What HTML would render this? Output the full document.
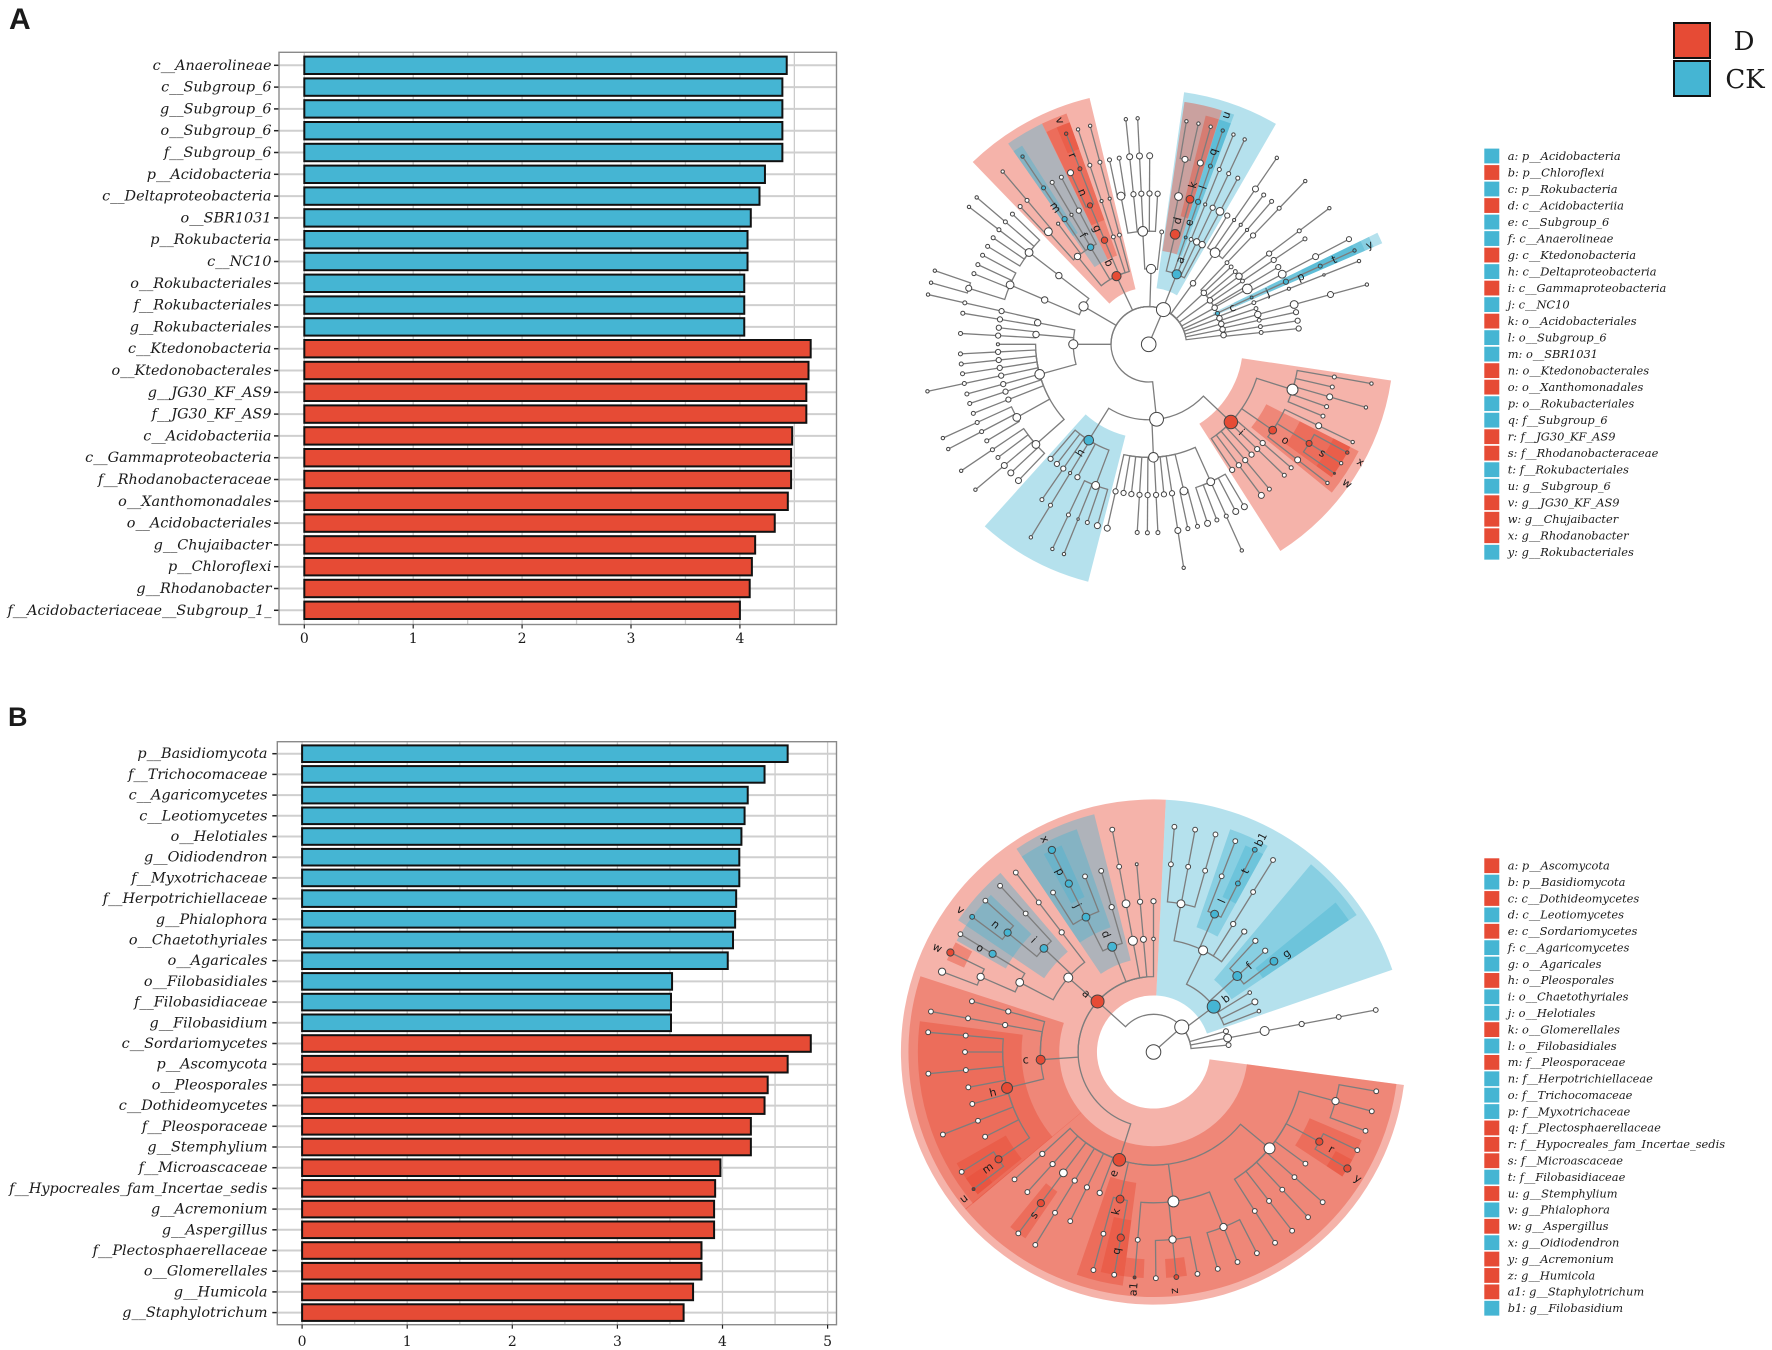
<!DOCTYPE html>
<html lang="en">
<head>
<meta charset="utf-8">
<title>LEfSe bar charts and cladograms</title>
<style>
html,body{margin:0;padding:0;background:#fff;}
svg{display:block;}
text{fill:#1a1a1a;}
.serif{font-family:"DejaVu Serif","Liberation Serif",serif;}
.ital{font-family:"DejaVu Serif","Liberation Serif",serif;font-style:italic;}
.sans{font-family:"DejaVu Sans","Liberation Sans",sans-serif;}
.bold{font-family:"Liberation Sans",sans-serif;font-weight:bold;}
</style>
</head>
<body>
<svg id="fig" xmlns="http://www.w3.org/2000/svg" width="1772" height="1350" viewBox="0 0 1772 1350">
  <rect x="0" y="0" width="1772" height="1350" fill="#ffffff"/>
  <text x="9" y="29" class="bold" font-size="30" fill="#000">A</text>
  <text x="8" y="726" class="bold" font-size="27" fill="#000">B</text>
  <g>
    <rect x="1674" y="23" width="36" height="35" fill="#E64B35" stroke="#111" stroke-width="2"/>
    <rect x="1674" y="61" width="36" height="35" fill="#45B5D3" stroke="#111" stroke-width="2"/>
    <text x="1744" y="50" class="serif" font-size="26" text-anchor="middle">D</text>
    <text x="1745" y="88" class="serif" font-size="26" text-anchor="middle">CK</text>
  </g>
  <g id="barsA"></g>
  <g id="barsB"></g>
  <g id="cladeA"></g>
  <g id="cladeB"></g>
  <g id="legendA"></g>
  <g id="legendB"></g>
</svg>
<script>
// ---------- Panel A bar data ----------
const barLabelsA = ["c__Anaerolineae","c__Subgroup_6","g__Subgroup_6","o__Subgroup_6","f__Subgroup_6","p__Acidobacteria","c__Deltaproteobacteria","o__SBR1031","p__Rokubacteria","c__NC10","o__Rokubacteriales","f__Rokubacteriales","g__Rokubacteriales","c__Ktedonobacteria","o__Ktedonobacterales","g__JG30_KF_AS9","f__JG30_KF_AS9","c__Acidobacteriia","c__Gammaproteobacteria","f__Rhodanobacteraceae","o__Xanthomonadales","o__Acidobacteriales","g__Chujaibacter","p__Chloroflexi","g__Rhodanobacter","f__Acidobacteriaceae__Subgroup_1_"];
const barValuesA = [4.43,4.39,4.39,4.39,4.39,4.23,4.18,4.10,4.07,4.07,4.04,4.04,4.04,4.65,4.63,4.61,4.61,4.48,4.47,4.47,4.44,4.32,4.14,4.11,4.09,4.00];
const barGroupsA = ["b","b","b","b","b","b","b","b","b","b","b","b","b","r","r","r","r","r","r","r","r","r","r","r","r","r"];
const xTicksA = [0,1,2,3,4];
// ---------- Panel B bar data ----------
const barLabelsB = ["p__Basidiomycota","f__Trichocomaceae","c__Agaricomycetes","c__Leotiomycetes","o__Helotiales","g__Oidiodendron","f__Myxotrichaceae","f__Herpotrichiellaceae","g__Phialophora","o__Chaetothyriales","o__Agaricales","o__Filobasidiales","f__Filobasidiaceae","g__Filobasidium","c__Sordariomycetes","p__Ascomycota","o__Pleosporales","c__Dothideomycetes","f__Pleosporaceae","g__Stemphylium","f__Microascaceae","f__Hypocreales_fam_Incertae_sedis","g__Acremonium","g__Aspergillus","f__Plectosphaerellaceae","o__Glomerellales","g__Humicola","g__Staphylotrichum"];
const barValuesB = [4.62,4.40,4.24,4.21,4.18,4.16,4.16,4.13,4.12,4.10,4.05,3.52,3.51,3.51,4.84,4.62,4.43,4.40,4.27,4.27,3.98,3.93,3.92,3.92,3.80,3.80,3.72,3.63];
const barGroupsB = ["b","b","b","b","b","b","b","b","b","b","b","b","b","b","r","r","r","r","r","r","r","r","r","r","r","r","r","r"];
const xTicksB = [0,1,2,3,4,5];
// ---------- Taxa legends ----------
const taxaA = ["a: p__Acidobacteria","b: p__Chloroflexi","c: p__Rokubacteria","d: c__Acidobacteriia","e: c__Subgroup_6","f: c__Anaerolineae","g: c__Ktedonobacteria","h: c__Deltaproteobacteria","i: c__Gammaproteobacteria","j: c__NC10","k: o__Acidobacteriales","l: o__Subgroup_6","m: o__SBR1031","n: o__Ktedonobacterales","o: o__Xanthomonadales","p: o__Rokubacteriales","q: f__Subgroup_6","r: f__JG30_KF_AS9","s: f__Rhodanobacteraceae","t: f__Rokubacteriales","u: g__Subgroup_6","v: g__JG30_KF_AS9","w: g__Chujaibacter","x: g__Rhodanobacter","y: g__Rokubacteriales"];
const taxaGroupsA = "brbrbbrbrbrbbrrbbrrbbrrrb";
const taxaB = ["a: p__Ascomycota","b: p__Basidiomycota","c: c__Dothideomycetes","d: c__Leotiomycetes","e: c__Sordariomycetes","f: c__Agaricomycetes","g: o__Agaricales","h: o__Pleosporales","i: o__Chaetothyriales","j: o__Helotiales","k: o__Glomerellales","l: o__Filobasidiales","m: f__Pleosporaceae","n: f__Herpotrichiellaceae","o: f__Trichocomaceae","p: f__Myxotrichaceae","q: f__Plectosphaerellaceae","r: f__Hypocreales_fam_Incertae_sedis","s: f__Microascaceae","t: f__Filobasidiaceae","u: g__Stemphylium","v: g__Phialophora","w: g__Aspergillus","x: g__Oidiodendron","y: g__Acremonium","z: g__Humicola","a1: g__Staphylotrichum","b1: g__Filobasidium"];
const taxaGroupsB = "rbrbrbbrbbrbrbbbrrrbrbrbrrrb".split("");
// ---------- Cladogram A: node = [angle deg, chain of node codes, ...children] ----------
// codes: w/W/X/v/u white (normal, big, bigger, small, tiny); r/R/Y red; b/B/n blue; k dark tiny
const cladeTreeA = [0,"w",[23,"w",
  [-59.8,"w",
    [-52.6,"w",[-52.5,"W",[-46.3,"w"],[-49.5,"ww"],[-52.6,"ww"],[-55.6,"w"],[-58.7,"w"]]],
    [-66.9,"w",[-66.8,"W",[-61.8,"w"],[-65,"w"],[-68,"w"],[-72.7,"W",[-71,"w"],[-74.2,"w"]]]]],
  [-90,"w",
    [-79,"w",[-77.3,"www"],[-80.5,"ww"]],
    [-85,"w",[-83.7,"w"],[-86.7,"ww"]],
    [-105.4,"W",[-90,"v"],[-92.9,"ww"],[-96,"ww"],[-99,"ww"],[-102,"www"],[-105.3,"ww"],[-108.3,"ww"],[-111.5,"ww"],
      [-119,"W",[-114.5,"ww"],[-117.6,"ww"],[-120.8,"w"]],
      [-131.6,"W",[-124,"ww"],[-126.9,"w"],[-130,"Ww"],[-133,"W"],[-136.3,"W"]]]],
  [-25.3,"r",
    [-39,"w",[-41.7,"W",[-40.2,"ww"],[-43,"w"]]],
    [-30.9,"b",[-27.6,"ww"],[-30.8,"vw"],[-33.9,"bbb"],[-36.9,"v"]],
    [-23,"r",[-22.9,"r",[-24.5,"W"],[-21.4,"rr"]]],
    [-18.2,"vvww"],[-15,"vvww"]],
  [1.8,"w",
    [-3,"W",[-10.6,"W",[-12,"w"],[-9,"w"]],[-5.8,"wWw"],[-2.8,"wWw"],[0.3,"wW"],[3.4,"w"]],
    [6.6,"v"]],
  [21.8,"b",
    [13.5,"R",[11.4,"W",[11.1,"W",[9.6,"w"],[12.7,"w"]]],[15.9,"RWw"]],
    [19.1,"nbbb"],[22,"vvww"],[25.1,"wwww"],[28.2,"wWw"]],
  [36,"v",[35.9,"W",[31.4,"w"],[34.5,"vWw"],[37.6,"vw"],[40.7,"vw"]]],
  [47,"v",[43.8,"vwww"],[46.8,"v"],[50,"v"],[53,"wwww"],[56,"vww"]],
  [54.4,"v",[59.2,"vw"],[60.7,"W",[62.3,"WWW"]]],
  [65.8,"n",[65.5,"nbbb"]],
  [61,"v",[68.4,"vvvw"]],
  [69.8,"v",[71.6,"v",[74.7,"WWw"]],[74.7,"w"]],
  [74.3,"v",[77.7,"vw"]],
  [78.6,"v",[81,"vw"]],
  [83,"v",[84,"vw"]],
  [-186,"W",
    [-148,"B",[-139.4,"w"],[-142.5,"w"],[-145.5,"ww"],[-148.6,"vww"],[-151.8,"w"],
      [-159.4,"W",[-154.8,"ww"],[-158,"vw"],[-161,"w"],[-164.2,"W"]]],
    [177.6,"W",[-167.3,"wW"],[-170.4,"w"],[-173.4,"w"],[-176.5,"ww"],[-179.6,"ww"],[177.2,"ww"],[174.2,"w"],[171.1,"wWw"],
      [166.5,"W",[168,"w"],[165,"w"]],
      [155.7,"W",[161.8,"W"],[158.8,"w"],[155.7,"ww"],[152.5,"W"],[149.5,"W"]]],
    [133.4,"Y",
      [107.5,"X",[100,"ww"],[103.1,"w"],[106.2,"Ww"],[109.3,"w"],[112.4,"w"]],
      [124.7,"R",[115.6,"Ww"],[121.7,"R",[118.6,"r"],[121.7,"w"],[124.8,"k"]],[127.8,"Ww"]],
      [130.9,"ww"],[134,"ww"],[137,"w"],[140.2,"ww"],[143.3,"wW"],[146.4,"w"]]]
]];
// highlight wedges: inner level, outer level, start angle, end angle, group
const wedgesA = [
  [1.5,6.72,-44,-13.5,"r"],[2.5,6.5,-35,-25.8,"b"],[2.5,6.5,-25.8,-19.6,"r"],[3.5,6.25,-35,-32.5,"b"],[3.5,6.25,-25.7,-19.6,"r"],[5.5,6.25,-23,-19.6,"r"],
  [1.5,6.75,8,30,"b"],[2.5,6.5,8.4,17.4,"r"],[3.5,6.25,14,17.3,"r"],[2.5,6.5,17.4,20.4,"b"],[3.5,6.25,17.4,20.4,"b"],[5,6.25,17.4,20.4,"b"],
  [1.9,6.75,64,66.6,"b"],[2.5,6.5,64,66.6,"b"],[3.5,6.25,64,66.6,"b"],[4.5,6,64,66.6,"b"],
  [2.5,6.5,98.5,147.5,"r"],[3.5,6.25,117,129,"r"],[4.5,6,117,126,"r"],[5.5,6,117,122,"r"],[5.5,6,122,126,"r"],
  [2.5,6.5,-165.7,-138,"b"]
];
// clade letters: letter, radius px, angle
const cladeLabelsA = [["b",90.7,-25.9],["g",126.7,-23.9],["f",127.3,-30.9],["m",165.7,-34.2],["n",165.7,-23.5],["r",203.7,-21.9],["v",240.7,-21.6],["a",90,20.4],["e",128.3,18.3],["d",127,13],["l",166,19],["k",165.3,15.4],["q",203,18.4],["u",242,18.6],["c",91.3,66.3],["j",129.7,66.5],["p",166.3,66],["t",204,65.4],["y",242,65.7],["i",128,133.4],["o",167,125],["s",205,122],["x",242.3,119],["w",242.3,125],["h",128.3,-147.6]];
// ---------- Cladogram B ----------
const cladeTreeB = [0,"w",[48.5,"w",
  [53,"b",
    [26,"W",[10.5,"W",[5.3,"ww"],[10.6,"ww"],[15.9,"ww"]],[23.9,"B",[21.2,"ww"],[26.6,"bb"]],[31.9,"www"],[37,"w"]],
    [47.8,"B",[42.5,"w"],[47.8,"w"],[53,"B"]],
    [58.3,"v"],[63.7,"w"],[68.8,"v"]],
  [74,"u"],[79.3,"vWwww"],[84.7,"u"],
  [-47.9,"r",
    [-48.9,"W",
      [-37.5,"www"],
      [-46.6,"B",[-42.7,"ww"],[-50.7,"B",[-53.3,"b"],[-48,"w"]]],
      [-62.5,"W",[-58.6,"Bw"],[-66.5,"W",[-63.9,"R"],[-69.2,"W"]]]],
    [-21.4,"B",[-26.6,"B",[-26.7,"BB"],[-32.2,"w"],[-21.3,"w"]],[-16.1,"ww"]],
    [-10.5,"WWww"],[-5.1,"wwv"],[0,"vw"],
    [-93.9,"R",[-74.4,"ww"],[-79.7,"www"],
      [-103.8,"Y",[-85,"ww"],[-90,"w"],[-95.5,"ww"],[-100.8,"w"],[-106,"w"],[-111.4,"ww"],[-116.7,"w"],
        [-124.7,"R",[-122,"w"],[-127.3,"k"]]]],
    [-162.4,"Y",
      [-132.5,"ww"],[-138,"ww"],[-143.3,"WRw"],[-148.5,"www"],[-153.8,"ww"],[-159.1,"w"],
      [-167.2,"R",[-164.6,"ww"],[-170,"Rw"]],
      [172.4,"X",[-175.2,"wk"],[174.2,"W",[179.4,"w"],[174.2,"r"],[168.8,"w"]],[158.2,"W",[163.5,"w"],[158.2,"w"],[152.8,"w"]]],
      [129.7,"X",[147.5,"ww"],[142.2,"ww"],[136.9,"ww"],[131.6,"ww"],[126.3,"w"],[118.4,"R",[115.7,"w"],[121,"R"]],[105.1,"W",[100,"w"],[105.2,"w"],[110.4,"w"]]]]]
]];
const wedgesB = [
  [1.5,6.7,97.5,362.8,"r"],[1.5,6.7,2.8,71,"b"],
  [2.5,6.5,97.5,230.2,"r"],[2.5,6.5,-130,-72,"r"],[3.5,6.25,-130,-82.5,"r"],[4.5,6,-129,-119.5,"r"],[5.5,6,-129,-124,"r"],
  [3.5,6.25,-172.5,-161,"r"],[4.5,6,-172.5,-166.5,"r"],[5.5,6,-177.5,-172.5,"r"],[5.5,6,171.5,176.8,"r"],[4.5,6,-145.5,-140.7,"r"],
  [4.5,6,113,123.4,"r"],[5.5,6,118.5,123.4,"r"],
  [2.5,6.5,-34,-14,"b"],[3.5,6.25,-34,-19,"b"],[4.5,6,-29,-24,"b"],
  [3.5,6.25,-56,-40.5,"b"],[4.5,6,-56,-46,"b"],[4.5,6,-60.5,-56,"b"],[5.5,6,-66,-61,"r"],
  [3.5,6.25,19,29,"b"],[4.5,6,24,29,"b"],
  [2.5,6.5,40,56,"b"],[3.5,6.25,50.6,56,"b"]
];
const cladeLabelsB = [["x",239,-27],["p",203,-27.3],["j",164.8,-27.4],["d",127,-21.9],["v",239.7,-53.6],["n",203,-51],["i",164,-46.8],["w",240,-64.2],["o",202.4,-59],["a",89,-48.9],["c",128,-93.4],["b1",238,26.8],["t",202.8,26.8],["l",165.7,24.3],["b",90,53.4],["f",128.7,47.9],["g",165.5,53.4],["h",165.6,-104.1],["m",202.5,-125],["u",239.8,-127.6],["s",202.3,-143.7],["e",127.7,-161.8],["k",164,-166.7],["q",202.5,-169.4],["a1",238,-175.1],["z",239.7,174.7],["r",202.7,118.6],["y",240.4,121.7]];

const NS = "http://www.w3.org/2000/svg";
const COLORS = {r:"#E64B35", b:"#45B5D3"};
const NODE_FILL = {w:"#ffffff",W:"#ffffff",X:"#ffffff",v:"#ffffff",u:"#ffffff",r:"#E64B35",R:"#E64B35",Y:"#E64B35",b:"#45B5D3",B:"#45B5D3",n:"#45B5D3",k:"#a03020"};
const NODE_SCALE = {w:1,W:1.5,X:2.1,v:0.6,u:0.38,r:1,R:1.5,Y:2.1,b:1,B:1.5,n:0.45,k:0.6};
function mk(parent, tag, attrs, text){
  const el = document.createElementNS(NS, tag);
  for (const k in attrs) el.setAttribute(k, attrs[k]);
  if (text !== undefined) el.textContent = text;
  parent.appendChild(el);
  return el;
}

function drawBars(rootId, labels, values, groups, ticks, cfg){
  const root = document.getElementById(rootId);
  const xScale = v => cfg.x0 + v * cfg.unit;
  const yScale = i => cfg.first + i * cfg.step;
  for (let v = 0; xScale(v) < cfg.right; v += 0.5){
    const el = mk(root, "line", {x1:xScale(v), x2:xScale(v), y1:cfg.top, y2:cfg.bottom, stroke:"#cbcbcb", "stroke-width":1.3});
    
    
  }
  labels.forEach((label, i) => {
    const y = yScale(i);
    const grid = mk(root, "line", {x1:cfg.left, x2:cfg.right, y1:y, y2:y, stroke:"#cfcfcf", "stroke-width":2});
    
    
    const tick = mk(root, "line", {x1:cfg.left-5, x2:cfg.left, y1:y, y2:y, stroke:"#222", "stroke-width":1.5});
    
    
    const txt = mk(root, "text", {x:cfg.labelX, y:y+4.5, "text-anchor":"end", class:"ital", "font-size":cfg.fs}, label);
    
    
  });
  values.forEach((v, i) => {
    const bar = mk(root, "rect", {x:xScale(0), y:yScale(i)-cfg.h/2, width:xScale(v)-xScale(0), height:cfg.h, fill:COLORS[groups[i]], stroke:"#111", "stroke-width":2});
    
    
  });
  const box = mk(root, "rect", {x:cfg.left, y:cfg.top, width:cfg.right-cfg.left, height:cfg.bottom-cfg.top, fill:"none", stroke:"#8a8a8a", "stroke-width":1.4});
  
  
  ticks.forEach(t => {
    const m = mk(root, "line", {x1:xScale(t), x2:xScale(t), y1:cfg.bottom, y2:cfg.bottom+4, stroke:"#222", "stroke-width":1.2});
    
    
    const tl = mk(root, "text", {x:xScale(t), y:cfg.tickY, "text-anchor":"middle", class:"serif", "font-size":14}, String(t));
    
    
  });
}

function drawLegend(rootId, items, groups, y0, step){
  const root = document.getElementById(rootId);
  items.forEach((item, i) => {
    const y = y0 + i * step;
    const sw = mk(root, "rect", {x:1484.3, y:y-7.4, width:15, height:14.8, fill:COLORS[groups[i]]});
    
    
    const t = mk(root, "text", {x:1507.7, y:y+3.8, class:"ital", "font-size":11.4}, item);
    
    
  });
}

function drawClade(rootId, tree, wedges, letters, cfg){
  const root = document.getElementById(rootId);
  const L = cfg.L;
  const pt = (r, a) => {
    const t = a * Math.PI / 180;
    return [cfg.cx + r * Math.sin(t), cfg.cy - r * Math.cos(t)];
  };
  const fmt = p => p[0].toFixed(2) + " " + p[1].toFixed(2);
  wedges.forEach(w => {
    const r0 = w[0]*L, r1 = w[1]*L, a0 = w[2], a1 = w[3];
    const large = (a1 - a0) > 180 ? 1 : 0;
    const d = "M" + fmt(pt(r0,a0)) + "L" + fmt(pt(r1,a0)) + "A" + r1 + " " + r1 + " 0 " + large + " 1 " + fmt(pt(r1,a1)) + "L" + fmt(pt(r0,a1)) + "A" + r0 + " " + r0 + " 0 " + large + " 0 " + fmt(pt(r0,a0)) + "Z";
    const el = mk(root, "path", {d:d, fill:COLORS[w[4]==="r"?"r":"b"], "fill-opacity":w[4]==="r"?0.42:0.4});
    
    
  });
  const edgeLayer = mk(root, "g", {});
  const nodeLayer = mk(root, "g", {});
  function edge(pLevel, pAngle, level, angle){
    let delta = angle - pAngle;
    if (pLevel >= 2) delta = ((delta + 180) % 360 + 360) % 360 - 180;
    const r = pLevel * L;
    const end = pAngle + delta;
    let d = "M" + fmt(pt(r, pAngle));
    if (r > 0 && Math.abs(delta) > 0.01) d += "A" + r + " " + r + " 0 " + (Math.abs(delta) > 180 ? 1 : 0) + " " + (delta > 0 ? 1 : 0) + " " + fmt(pt(r, end));
    d += "L" + fmt(pt(level * L, end));
    const el = mk(edgeLayer, "path", {d:d, fill:"none", stroke:"#7d7d7d", "stroke-width":1.3});
    
    
  }
  function node(level, angle, c){
    const p = pt(level * L, angle);
    const scale = level >= 2 ? NODE_SCALE[c] : 1;
    const el = mk(nodeLayer, "circle", {cx:p[0], cy:p[1], r:cfg.sizes[level] * scale, fill:NODE_FILL[c], stroke:"#444", "stroke-width":1});
    
    
  }
  function walk(n, pLevel, pAngle){
    const angle = n[0], chain = n[1];
    let level = pLevel;
    for (let i = 0; i < chain.length; i++){
      if (level === -1) { node(0, angle, chain[i]); level = 0; continue; }
      if (i === 0) edge(level, pAngle, level + 1, angle);
      else edge(level, angle, level + 1, angle);
      level += 1;
      node(level, angle, chain[i]);
    }
    for (let j = 2; j < n.length; j++) walk(n[j], level, angle);
  }
  walk(tree, -1, tree[0]);
  letters.forEach(l => {
    const p = pt(l[1], l[2]);
    const rot = l[2] >= 0 ? l[2] - 90 : l[2] + 90;
    const t = mk(root, "text", {x:p[0], y:p[1]+3.8, "text-anchor":"middle", class:"sans", "font-size":11, transform:"rotate(" + rot.toFixed(1) + " " + p[0].toFixed(1) + " " + p[1].toFixed(1) + ")"}, l[0]);
    
    
  });
}

drawBars("barsA", barLabelsA, barValuesA, barGroupsA, xTicksA, {x0:304.3, unit:108.9, first:65.3, step:21.8, h:17.4, left:279, right:836.5, top:52.3, bottom:624.5, labelX:271.5, tickY:643, fs:14.4});
drawBars("barsB", barLabelsB, barValuesB, barGroupsB, xTicksB, {x0:302.1, unit:105.1, first:753.7, step:20.7, h:16.6, left:277.3, right:836.5, top:741.7, bottom:1324.7, labelX:267.5, tickY:1346, fs:14.4});
drawLegend("legendA", taxaA, taxaGroupsA, 156, 16.51);
drawLegend("legendB", taxaB, taxaGroupsB, 865.7, 16.39);
drawClade("cladeA", cladeTreeA, wedgesA, cladeLabelsA, {cx:1148.7, cy:344.3, L:37.7, sizes:[7.3,7,4.6,3.2,2.6,2,1.7]});
drawClade("cladeB", cladeTreeB, wedgesB, cladeLabelsB, {cx:1153.5, cy:1052, L:37.7, sizes:[7.3,7,6.5,3,2.6,2.4,2.4]});
</script>
</body>
</html>
